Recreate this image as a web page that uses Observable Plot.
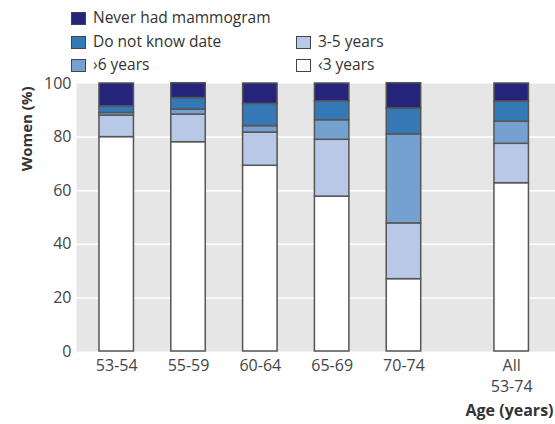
<!DOCTYPE html>
<html><head><meta charset="utf-8">
<script src="https://cdn.jsdelivr.net/npm/d3@7"></script>
<script src="https://cdn.jsdelivr.net/npm/@observablehq/plot@0.6"></script>
<style>
body{margin:0;background:#fff;font-family:"Open Sans",sans-serif;}
#wrap{position:relative;width:555px;height:424px;overflow:hidden;}
#legend{position:absolute;left:0;top:0;width:555px;height:68px;}
.item{position:absolute;display:flex;align-items:center;font-size:15.5px;color:#333;line-height:1;white-space:nowrap;}
.sw{width:13px;height:11px;border:1px solid #444;margin-right:7px;flex:none;}
#chart{position:absolute;left:0;top:68px;}
</style></head><body>
<div id="wrap"><div id="legend"></div><div id="chart"></div></div>
<script>
const ageGroups = ["53-54","55-59","60-64","65-69","70-74","All\n53-74"];
const categories = ["‹3 years","3-5 years","›6 years","Do not know date","Never had mammogram"];
const lt3 = [80, 78.1, 69.3, 57.8, 27, 62.8];
const y3to5 = [8, 10.3, 12.4, 21.2, 20.8, 14.7];
const ge6 = [1, 1.9, 2.4, 7.3, 33.2, 8.3];
const dontKnow = [2.5, 4.3, 8.3, 7.1, 9.7, 7.5];
const never = [8.5, 5.5, 7.6, 6.6, 9.4, 6.7];
const colors = ["#ffffff","#b7c9e6","#75a1d0","#3578b6","#26237a"];
const yTicks = [0,20,40,60,80,100];

// legend (top), order as in the reference
const legendItems = [
  {cat: 4, left: 71, top: 18},
  {cat: 3, left: 71, top: 42},
  {cat: 1, left: 296, top: 42},
  {cat: 2, left: 71, top: 65},
  {cat: 0, left: 296, top: 65}
];
const legend = document.getElementById("legend");
for (const it of legendItems) {
  const div = document.createElement("div");
  div.className = "item";
  div.style.left = it.left + "px";
  div.style.top = (it.top - 9) + "px";
  div.style.height = "18px";
  const sw = document.createElement("span");
  sw.className = "sw";
  sw.style.background = colors[it.cat];
  const tx = document.createElement("span");
  tx.textContent = categories[it.cat];
  div.appendChild(sw); div.appendChild(tx);
  legend.appendChild(div);
}

const series = [lt3, y3to5, ge6, dontKnow, never];
const slot = i => i < 5 ? i + 1 : i + 1.5;
const rows = [];
ageGroups.forEach((g, i) => {
  categories.forEach((c, k) => rows.push({group: g, index: i, category: c, value: series[k][i]}));
});
const halfW = 0.24;

const chart = Plot.plot({
  width: 555, height: 356,
  marginTop: 15, marginBottom: 73, marginLeft: 76, marginRight: 0,
  style: {fontFamily: "Open Sans", fontSize: "16px", color: "#444", background: "transparent"},
  x: {type: "linear", domain: [0.44, 7.11], axis: null},
  y: {domain: [0, 100], axis: null},
  color: {domain: categories, range: colors},
  marks: [
    Plot.frame({fill: "#e6e6e6", stroke: null}),
    Plot.gridY(yTicks.filter(t => t > 0 && t < 100), {stroke: "#fff", strokeOpacity: 1, strokeWidth: 1.5}),
    Plot.axisY(yTicks, {tickSize: 0, tickPadding: 5, label: null, fontSize: 16, fill: "#444"}),
    Plot.axisX(ageGroups.map((g, i) => slot(i)), {tickSize: 0, tickPadding: 5, label: null, fontSize: 16, fill: "#444",
      lineHeight: 1.3,
      tickFormat: d => ageGroups[ageGroups.findIndex((g, i) => slot(i) === d)]}),
    Plot.rectY(rows, Plot.stackY({
      x1: d => slot(d.index) - halfW,
      x2: d => slot(d.index) + halfW,
      y: "value", fill: "category", stroke: "#555", strokeWidth: 1.5
    })),
    Plot.text(["Women (%)"], {text: d => d, frameAnchor: "top-left", rotate: -90, textAnchor: "end",
      dx: -55, dy: 3, fontWeight: "bold", fontSize: 15, fill: "#333"}),
    Plot.text(["Age (years)"], {text: d => d, frameAnchor: "bottom-right", textAnchor: "end",
      dx: -2, dy: 64, fontWeight: "bold", fontSize: 16, fill: "#333"})
  ]
});
document.getElementById("chart").appendChild(chart);
</script>
</body></html>
